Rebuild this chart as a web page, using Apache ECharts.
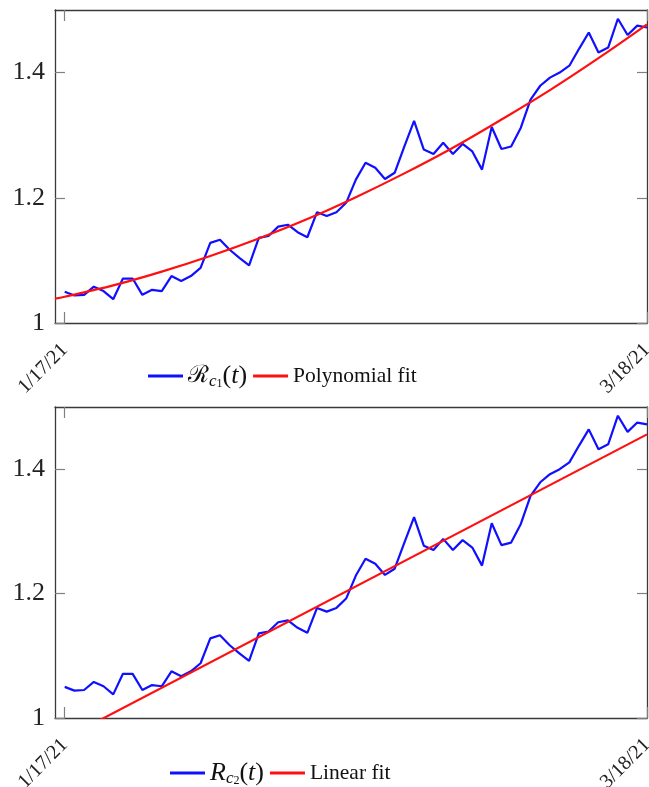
<!DOCTYPE html>
<html><head><meta charset="utf-8">
<script src="https://cdn.jsdelivr.net/npm/echarts@6/dist/echarts.min.js"></script>
<style>html,body{margin:0;padding:0;background:#fff}#c{width:649px;height:787px}</style>
</head><body><div id="c"></div>
<script>
// Day offsets from 1/17/21
const days = [0,1,2,3,4,5,6,7,8,9,10,11,12,13,14,15,16,17,18,19,20,21,22,23,24,25,26,27,28,29,30,31,32,33,34,35,36,37,38,39,40,41,42,43,44,45,46,47,48,49,50,51,52,53,54,55,56,57,58,59,60];
// Observed reproduction number (same curve in both panels)
const rValues = [1.050,1.044,1.045,1.058,1.051,1.038,1.071,1.071,1.045,1.053,
                 1.051,1.075,1.067,1.075,1.088,1.128,1.133,1.117,1.104,1.092,
                 1.136,1.139,1.154,1.157,1.145,1.137,1.177,1.171,1.177,1.192,
                 1.229,1.256,1.248,1.230,1.240,1.282,1.323,1.277,1.270,1.288,
                 1.270,1.286,1.274,1.245,1.313,1.278,1.282,1.312,1.357,1.379,
                 1.392,1.400,1.411,1.438,1.464,1.432,1.440,1.486,1.460,1.475,1.472];
// Polynomial fit
const polyDays = [-1,0,5,10,15,20,25,30,35,40,45,50,55,60];
const polyValues = [1.039,1.042,1.060,1.082,1.107,1.135,1.166,1.201,1.239,1.280,1.325,1.372,1.423,1.477];
// Linear fit
const linDays = [-1,60];
const linValues = [0.959,1.456];
// Tick labels
const xTickDays = [0,60];
const xTickLabels = ['1/17/21','3/18/21'];
const yTicks = [1,1.2,1.4];
const yTickLabels = ['1','1.2','1.4'];

const SERIF = '"Liberation Serif", "DejaVu Serif", serif';
const BORDER = {show:true, onZero:false, lineStyle:{color:'#3a3a3a', width:1.3}};
const TICKC = {color:'#808080', width:1.2};

function xAxes(g){
  return [
    {type:'value', gridIndex:g, min:-1, max:60, position:'bottom',
     axisLine:BORDER,
     axisTick:{show:true, inside:true, length:11, customValues:xTickDays, lineStyle:TICKC},
     axisLabel:{customValues:xTickDays, rotate:45, margin:24, color:'#222',
       fontFamily:SERIF, fontSize:20,
       formatter:v=>xTickLabels[xTickDays.indexOf(v)]},
     splitLine:{show:false}},
    {type:'value', gridIndex:g, min:-1, max:60, position:'top',
     axisLine:BORDER,
     axisTick:{show:true, inside:true, length:11, customValues:xTickDays, lineStyle:TICKC},
     axisLabel:{show:false}, splitLine:{show:false}}
  ];
}
function yAxes(g){
  return [
    {type:'value', gridIndex:g, min:1, max:1.5, position:'left',
     axisLine:BORDER,
     axisTick:{show:true, inside:true, length:10, customValues:yTicks, lineStyle:TICKC},
     axisLabel:{customValues:yTicks, margin:10, color:'#222', fontFamily:SERIF, fontSize:26,
       formatter:v=>yTickLabels[yTicks.indexOf(+v.toFixed(1))]},
     splitLine:{show:false}},
    {type:'value', gridIndex:g, min:1, max:1.5, position:'right',
     axisLine:BORDER,
     axisTick:{show:true, inside:true, length:10, customValues:yTicks, lineStyle:TICKC},
     axisLabel:{show:false}, splitLine:{show:false}}
  ];
}
const pairs = (xs, ys) => xs.map((x,i)=>[x, ys[i]]);
const BLUE = '#1010ff', RED = '#ff1010';

const rich = {
  cal:{fontFamily:'"DejaVu Serif", serif', fontSize:24, lineHeight:28, color:'#111'},
  R:{fontFamily:SERIF, fontStyle:'italic', fontSize:26, lineHeight:28, color:'#111'},
  sub:{fontFamily:SERIF, fontStyle:'italic', fontSize:17, lineHeight:15, verticalAlign:'bottom', color:'#111'},
  ssub:{fontFamily:SERIF, fontSize:12, lineHeight:10, verticalAlign:'bottom', color:'#111'},
  m:{fontFamily:SERIF, fontSize:26, lineHeight:28, color:'#111'},
  it:{fontFamily:SERIF, fontStyle:'italic', fontSize:26, lineHeight:28, color:'#111'},
  n:{fontFamily:SERIF, fontSize:21.5, lineHeight:28, color:'#111'}
};
const labelFor = {
  'rc1':'{cal|ℛ}{sub|c}{ssub|1}{m|(}{it|t}{m|)}',
  'rc2':'{R|R}{sub|c}{ssub|2}{m|(}{it|t}{m|)}',
  'Polynomial fit':'{n|Polynomial fit}',
  'Linear fit':'{n|Linear fit}'
};
const legendBase = {icon:'rect', itemWidth:35, itemHeight:3, itemGap:6, padding:0,
  textStyle:{fontFamily:SERIF, fontSize:22, color:'#111', rich:rich},
  formatter:name=>labelFor[name]};

const option = {
  animation:false,
  grid:[
    {left:55, top:10, width:592, height:313, show:false, outerBoundsMode:'none', containLabel:false},
    {left:55, top:407, width:592, height:311, show:false, outerBoundsMode:'none', containLabel:false}
  ],
  xAxis:[...xAxes(0), ...xAxes(1)],
  yAxis:[...yAxes(0), ...yAxes(1)],
  legend:[
    Object.assign({}, legendBase, {data:['rc1','Polynomial fit'], left:148, top:363}),
    Object.assign({}, legendBase, {data:['rc2','Linear fit'], left:170, top:760})
  ],
  series:[
    {name:'rc1', type:'line', xAxisIndex:0, yAxisIndex:0, data:pairs(days, rValues),
     symbol:'none', lineStyle:{width:2.2, color:BLUE}, itemStyle:{color:BLUE}},
    {name:'Polynomial fit', type:'line', xAxisIndex:0, yAxisIndex:0, data:pairs(polyDays, polyValues),
     symbol:'none', smooth:0.4, lineStyle:{width:2.2, color:RED}, itemStyle:{color:RED}},
    {name:'rc2', type:'line', xAxisIndex:2, yAxisIndex:2, data:pairs(days, rValues),
     symbol:'none', lineStyle:{width:2.2, color:BLUE}, itemStyle:{color:BLUE}},
    {name:'Linear fit', type:'line', xAxisIndex:2, yAxisIndex:2, data:pairs(linDays, linValues),
     symbol:'none', clip:true, lineStyle:{width:2.2, color:RED}, itemStyle:{color:RED}}
  ]
};
const chart = echarts.init(document.getElementById('c'), null, {renderer:'canvas'});
chart.setOption(option);
</script>
</body></html>
